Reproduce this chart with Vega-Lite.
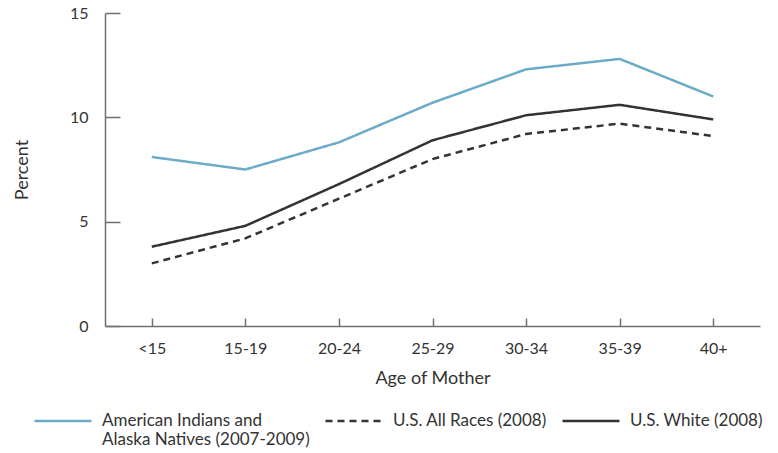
{
  "$schema": "https://vega.github.io/schema/vega-lite/v6.json",
  "autosize": {"type": "none"},
  "padding": {"left": 105, "top": 13, "right": 18, "bottom": 127},
  "width": 655,
  "height": 313,
  "background": "white",
  "config": {
    "view": {"stroke": null},
    "font": "Lato",
    "axis": {"labelFont": "Lato", "titleFont": "Lato", "labelColor": "#333", "titleColor": "#333", "titleFontWeight": "normal", "domainColor": "#707070", "tickColor": "#707070", "domainWidth": 1.5, "tickWidth": 1.5, "grid": false, "labelFontSize": 16, "titleFontSize": 18},
    "legend": {"labelFont": "Lato", "labelFontSize": 17, "labelColor": "#333"}
  },
  "data": {
    "values": [
      {"age": "<15", "series": "American Indians and Alaska Natives (2007-2009)", "pct": 8.1},
      {"age": "15-19", "series": "American Indians and Alaska Natives (2007-2009)", "pct": 7.5},
      {"age": "20-24", "series": "American Indians and Alaska Natives (2007-2009)", "pct": 8.8},
      {"age": "25-29", "series": "American Indians and Alaska Natives (2007-2009)", "pct": 10.7},
      {"age": "30-34", "series": "American Indians and Alaska Natives (2007-2009)", "pct": 12.3},
      {"age": "35-39", "series": "American Indians and Alaska Natives (2007-2009)", "pct": 12.8},
      {"age": "40+", "series": "American Indians and Alaska Natives (2007-2009)", "pct": 11.0},
      {"age": "<15", "series": "U.S. All Races (2008)", "pct": 3.0},
      {"age": "15-19", "series": "U.S. All Races (2008)", "pct": 4.2},
      {"age": "20-24", "series": "U.S. All Races (2008)", "pct": 6.1},
      {"age": "25-29", "series": "U.S. All Races (2008)", "pct": 8.0},
      {"age": "30-34", "series": "U.S. All Races (2008)", "pct": 9.2},
      {"age": "35-39", "series": "U.S. All Races (2008)", "pct": 9.7},
      {"age": "40+", "series": "U.S. All Races (2008)", "pct": 9.1},
      {"age": "<15", "series": "U.S. White (2008)", "pct": 3.8},
      {"age": "15-19", "series": "U.S. White (2008)", "pct": 4.8},
      {"age": "20-24", "series": "U.S. White (2008)", "pct": 6.8},
      {"age": "25-29", "series": "U.S. White (2008)", "pct": 8.9},
      {"age": "30-34", "series": "U.S. White (2008)", "pct": 10.1},
      {"age": "35-39", "series": "U.S. White (2008)", "pct": 10.6},
      {"age": "40+", "series": "U.S. White (2008)", "pct": 9.9}
    ]
  },
  "mark": {"type": "line", "strokeWidth": 2.5},
  "encoding": {
    "x": {
      "field": "age", "type": "ordinal",
      "sort": ["<15", "15-19", "20-24", "25-29", "30-34", "35-39", "40+"],
      "scale": {"type": "point", "padding": 0.5},
      "axis": {"title": "Age of Mother", "labelAngle": 0, "tickSize": -8, "labelPadding": 22, "titlePadding": 13}
    },
    "y": {
      "field": "pct", "type": "quantitative",
      "scale": {"domain": [0, 15]},
      "axis": {"title": "Percent", "values": [0, 5, 10, 15], "tickSize": -15, "labelPadding": 32, "titlePadding": 38}
    },
    "color": {
      "field": "series", "type": "nominal",
      "scale": {"domain": ["American Indians and Alaska Natives (2007-2009)", "U.S. All Races (2008)", "U.S. White (2008)"], "range": ["#6cabc7", "#333333", "#333333"]},
      "legend": {
        "title": null, "orient": "none", "legendX": -72, "legendY": 378, "direction": "horizontal", "columns": 3,
        "gridAlign": "none", "columnPadding": 10, "symbolType": "stroke", "symbolSize": 3249, "symbolStrokeWidth": 2.5, "labelOffset": 9, "labelLimit": 400,
        "labelExpr": "datum.label == 'American Indians and Alaska Natives (2007-2009)' ? ['American Indians and', 'Alaska Natives (2007-2009)'] : datum.label"
      }
    },
    "strokeDash": {
      "field": "series", "type": "nominal",
      "scale": {"domain": ["American Indians and Alaska Natives (2007-2009)", "U.S. All Races (2008)", "U.S. White (2008)"], "range": [[1, 0], [7, 5], [1, 0]]},
      "legend": {
        "title": null, "orient": "none", "legendX": -72, "legendY": 378, "direction": "horizontal", "columns": 3,
        "gridAlign": "none", "columnPadding": 10, "symbolType": "stroke", "symbolSize": 3249, "symbolStrokeWidth": 2.5, "labelOffset": 9, "labelLimit": 400,
        "labelExpr": "datum.label == 'American Indians and Alaska Natives (2007-2009)' ? ['American Indians and', 'Alaska Natives (2007-2009)'] : datum.label"
      }
    }
  }
}
